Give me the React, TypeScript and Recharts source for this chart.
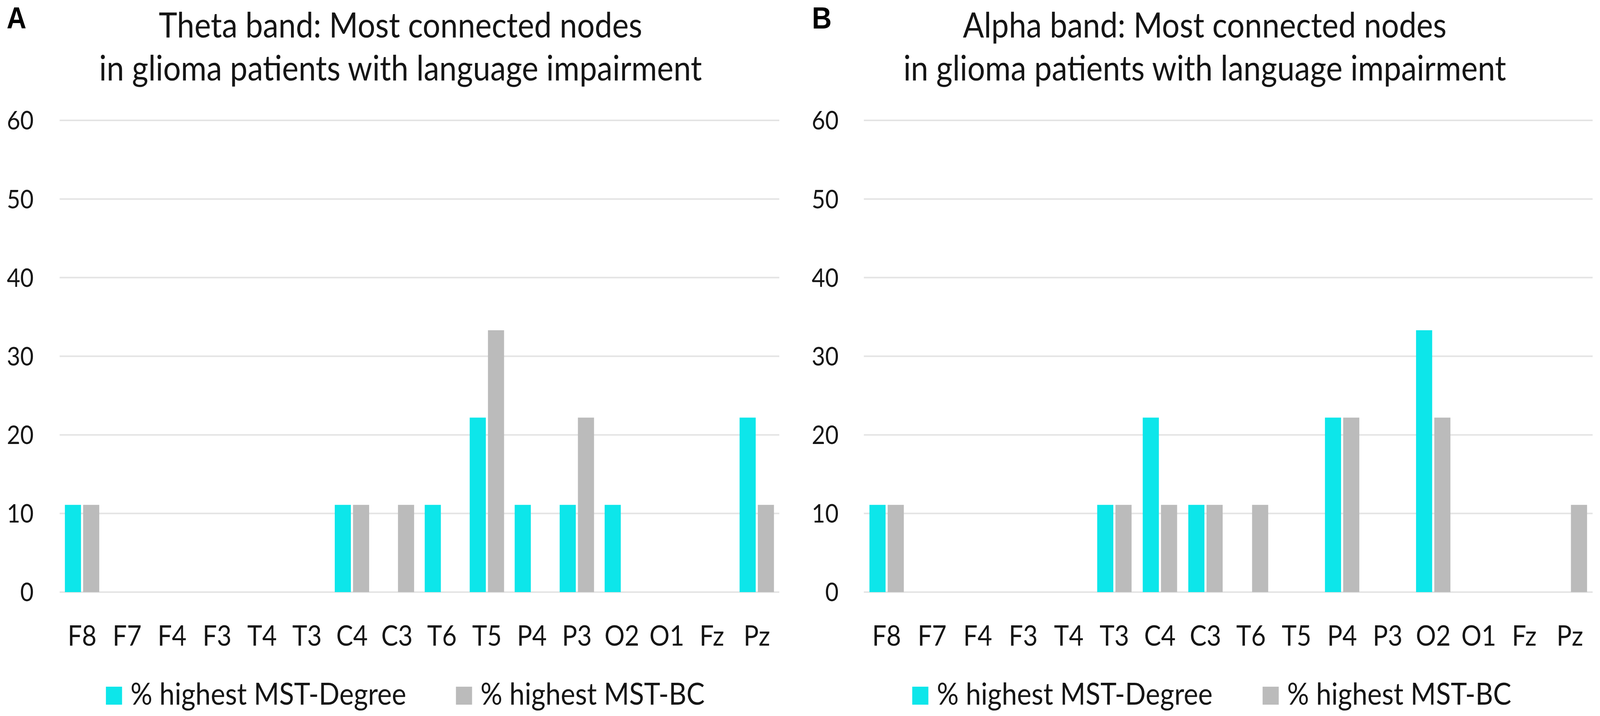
import { Bar, BarChart, CartesianGrid, XAxis, YAxis } from 'recharts'

const nodes = ['F8', 'F7', 'F4', 'F3', 'T4', 'T3', 'C4', 'C3', 'T6', 'T5', 'P4', 'P3', 'O2', 'O1', 'Fz', 'Pz']
const yTicks = [0, 10, 20, 30, 40, 50, 60]

// % of patients for whom the node had the highest MST value
const thetaDegree = [11.1, 0, 0, 0, 0, 0, 11.1, 0, 11.1, 22.2, 11.1, 11.1, 11.1, 0, 0, 22.2]
const thetaBC = [11.1, 0, 0, 0, 0, 0, 11.1, 11.1, 0, 33.3, 0, 22.2, 0, 0, 0, 11.1]
const alphaDegree = [11.1, 0, 0, 0, 0, 11.1, 22.2, 11.1, 0, 0, 22.2, 0, 33.3, 0, 0, 0]
const alphaBC = [11.1, 0, 0, 0, 0, 11.1, 11.1, 11.1, 11.1, 0, 22.2, 0, 22.2, 0, 0, 11.1]

const seriesNames = ['% highest MST-Degree', '% highest MST-BC']

const CYAN = '#0DE6EA'
const GREY = '#BBBBBB'
const INK = '#151515'
const FONT = 'Lato, "Open Sans", sans-serif'

const W = 4562
const H = 1832
const PANEL_W = 2281

function toRows(degree: number[], bc: number[]) {
  return nodes.map((node, i) => ({ node, degree: degree[i], bc: bc[i] }))
}

interface PanelProps {
  x: number
  letter: string
  letterX: number
  titleLines: string[]
  titleCenter: number
  plotLeft: number
  plotRight: number
  yTickMargin: number
  legendX: [number, number]
  data: { node: string; degree: number; bc: number }[]
}

function LegendItem({ left, color, label }: { left: number; color: string; label: string }) {
  return (
    <div style={{ position: 'absolute', left, top: 1718, display: 'flex', alignItems: 'center', height: 110 }}>
      <div style={{ width: 46, height: 46, background: color, marginTop: 14 }} />
      <span style={{ marginLeft: 24, fontSize: 78, color: INK, fontFamily: FONT, whiteSpace: 'nowrap' }}>
        {label}
      </span>
    </div>
  )
}

function Panel({ x, letter, letterX, titleLines, titleCenter, plotLeft, plotRight, yTickMargin, legendX, data }: PanelProps) {
  return (
    <div style={{ position: 'absolute', left: x, top: 0, width: PANEL_W, height: H }}>
      <div
        style={{
          position: 'absolute',
          left: letterX,
          top: 7,
          fontFamily: '"Liberation Sans", Arial, sans-serif',
          fontWeight: 700,
          fontSize: 78,
          lineHeight: '78px',
          color: '#000',
        }}
      >
        {letter}
      </div>
      {titleLines.map((line, i) => (
        <div
          key={line}
          style={{
            position: 'absolute',
            left: titleCenter - 1100,
            width: 2200,
            top: i === 0 ? 12 : 122,
            textAlign: 'center',
            fontFamily: FONT,
            fontSize: 89,
            lineHeight: '100px',
            color: INK,
            whiteSpace: 'nowrap',
          }}
        >
          {line}
        </div>
      ))}

      <BarChart
        width={PANEL_W}
        height={H}
        data={data}
        margin={{ top: 308, right: PANEL_W - plotRight, bottom: 0, left: 0 }}
        barGap={6}
        style={{ position: 'absolute', left: 0, top: 0 }}
      >
        <CartesianGrid vertical={false} stroke="#E4E4E4" strokeWidth={4} />
        <XAxis
          dataKey="node"
          height={317}
          axisLine={false}
          tickLine={false}
          tickSize={0}
          tickMargin={86}
          interval={0}
          tick={{ fontSize: 72, fill: INK, fontFamily: FONT }}
        />
        <YAxis
          width={plotLeft}
          domain={[0, 60]}
          ticks={yTicks}
          axisLine={false}
          tickLine={false}
          tickSize={0}
          tickMargin={yTickMargin}
          tick={{ fontSize: 66, fill: INK, fontFamily: FONT }}
        />
        <Bar dataKey="degree" name={seriesNames[0]} fill={CYAN} barSize={46} isAnimationActive={false} />
        <Bar dataKey="bc" name={seriesNames[1]} fill={GREY} barSize={46} isAnimationActive={false} />
      </BarChart>

      <LegendItem left={legendX[0]} color={CYAN} label={seriesNames[0]} />
      <LegendItem left={legendX[1]} color={GREY} label={seriesNames[1]} />
    </div>
  )
}

export default function App() {
  // the page may be narrower than the figure; stretch it onto the viewport
  const vw = typeof window !== 'undefined' ? window.innerWidth : W
  const vh = typeof window !== 'undefined' ? window.innerHeight : H
  const sx = Math.min(vw / W, 1)
  const sy = Math.min(vh / H, 1)
  return (
    <div
      style={{
        position: 'absolute',
        left: 0,
        top: 0,
        width: W,
        height: H,
        background: '#fff',
        overflow: 'hidden',
        transform: sx < 1 || sy < 1 ? `scale(${sx}, ${sy})` : undefined,
        transformOrigin: '0 0',
      }}
    >
      <Panel
        x={0}
        letter="A"
        letterX={19}
        titleLines={['Theta band: Most connected nodes', 'in glioma patients with language impairment']}
        titleCenter={1142}
        plotLeft={170}
        plotRight={2222}
        yTickMargin={74}
        legendX={[302, 1300]}
        data={toRows(thetaDegree, thetaBC)}
      />
      <Panel
        x={PANEL_W}
        letter="B"
        letterX={34}
        titleLines={['Alpha band: Most connected nodes', 'in glioma patients with language impairment']}
        titleCenter={1154}
        plotLeft={182}
        plotRight={2260}
        yTickMargin={72}
        legendX={[320, 1319]}
        data={toRows(alphaDegree, alphaBC)}
      />
    </div>
  )
}
